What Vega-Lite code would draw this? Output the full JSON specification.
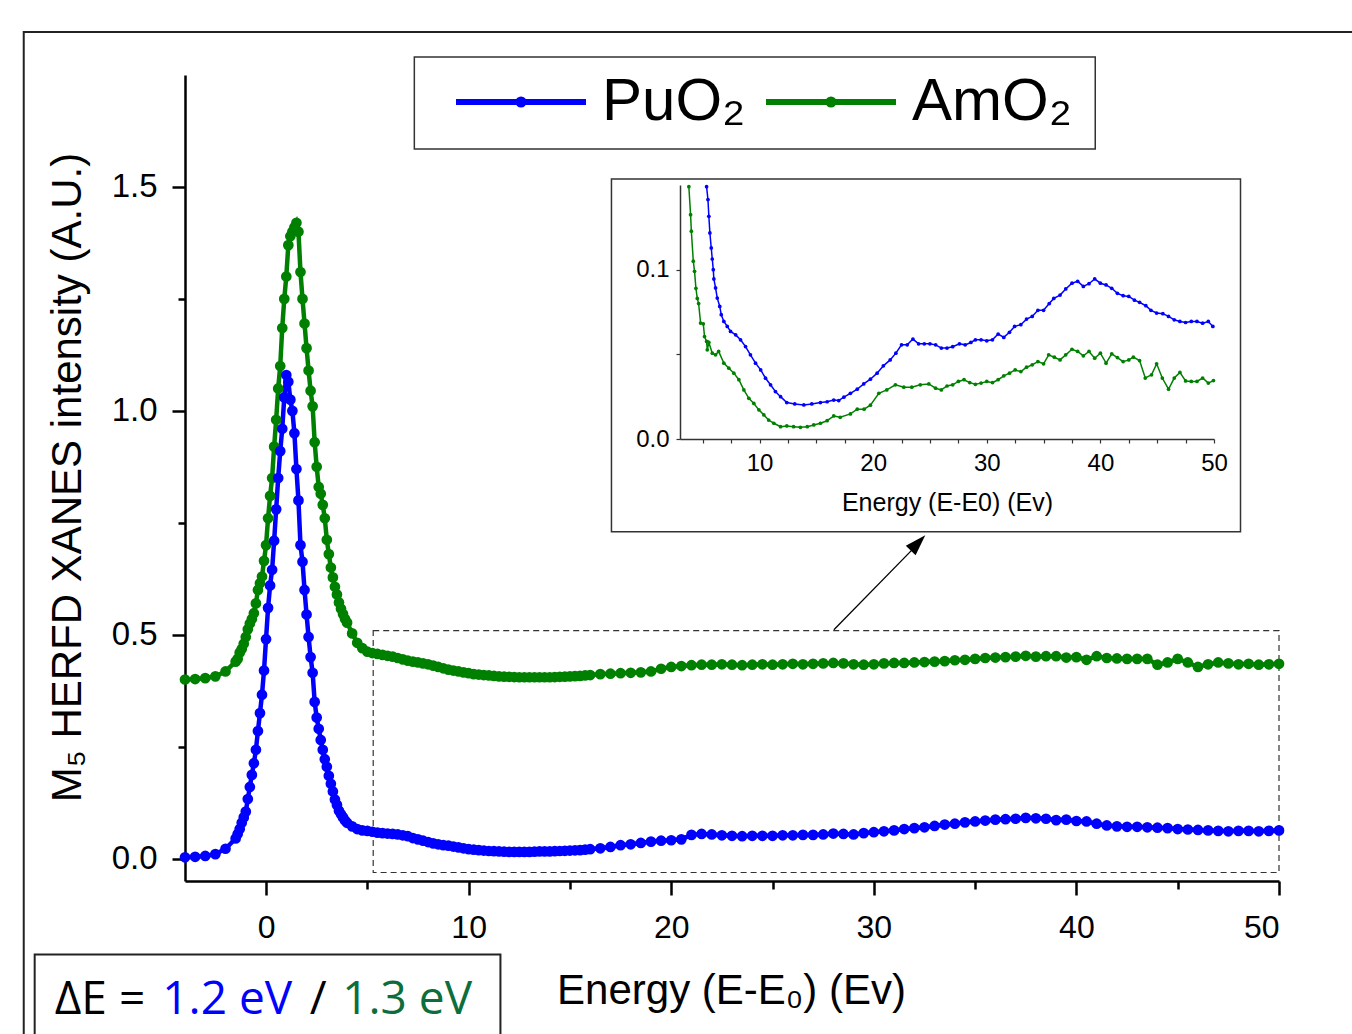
{
"$schema": "https://vega.github.io/schema/vega-lite/v6.json",
"width": 1094,
"height": 806,
"autosize": {"type": "none"},
"padding": {"left": 185, "top": 75, "right": 73, "bottom": 153},
"background": "white",
"config": {"view": {"stroke": null}, "axis": {"grid": false}, "font": "Liberation Sans"},
"datasets": {
"main": [
{"e":-4,"PuO2":0.003,"AmO2":0.400},{"e":-3.5,"PuO2":0.004,"AmO2":0.401},{"e":-3,"PuO2":0.006,"AmO2":0.403},{"e":-2.5,"PuO2":0.010,"AmO2":0.407},{"e":-2,"PuO2":0.022,"AmO2":0.418},
{"e":-1.5,"PuO2":0.045,"AmO2":0.440},{"e":-1.4,"PuO2":0.055,"AmO2":0.446},{"e":-1.3,"PuO2":0.066,"AmO2":0.460},{"e":-1.2,"PuO2":0.080,"AmO2":0.468},{"e":-1.1,"PuO2":0.092,"AmO2":0.480},
{"e":-1.0,"PuO2":0.105,"AmO2":0.495},{"e":-0.9,"PuO2":0.133,"AmO2":0.512},{"e":-0.8,"PuO2":0.160,"AmO2":0.525},{"e":-0.7,"PuO2":0.187,"AmO2":0.535},{"e":-0.6,"PuO2":0.213,"AmO2":0.548},
{"e":-0.5,"PuO2":0.243,"AmO2":0.570},{"e":-0.4,"PuO2":0.285,"AmO2":0.600},{"e":-0.3,"PuO2":0.325,"AmO2":0.615},{"e":-0.2,"PuO2":0.366,"AmO2":0.630},{"e":-0.1,"PuO2":0.420,"AmO2":0.665},
{"e":0,"PuO2":0.490,"AmO2":0.700},{"e":0.1,"PuO2":0.560,"AmO2":0.760},{"e":0.2,"PuO2":0.610,"AmO2":0.810},{"e":0.3,"PuO2":0.645,"AmO2":0.850},{"e":0.4,"PuO2":0.710,"AmO2":0.920},
{"e":0.5,"PuO2":0.780,"AmO2":0.980},{"e":0.6,"PuO2":0.850,"AmO2":1.050},{"e":0.7,"PuO2":0.910,"AmO2":1.100},{"e":0.8,"PuO2":0.960,"AmO2":1.185},{"e":0.9,"PuO2":1.030,"AmO2":1.250},
{"e":1.0,"PuO2":1.080,"AmO2":1.300},{"e":1.1,"PuO2":1.065,"AmO2":1.370},{"e":1.2,"PuO2":1.025,"AmO2":1.390},{"e":1.3,"PuO2":1.000,"AmO2":1.400},{"e":1.4,"PuO2":0.950,"AmO2":1.410},
{"e":1.5,"PuO2":0.870,"AmO2":1.420},{"e":1.6,"PuO2":0.800,"AmO2":1.400},{"e":1.7,"PuO2":0.700,"AmO2":1.310},{"e":1.8,"PuO2":0.663,"AmO2":1.250},{"e":1.9,"PuO2":0.600,"AmO2":1.195},
{"e":2.0,"PuO2":0.545,"AmO2":1.140},{"e":2.1,"PuO2":0.495,"AmO2":1.090},{"e":2.2,"PuO2":0.450,"AmO2":1.045},{"e":2.3,"PuO2":0.415,"AmO2":1.010},{"e":2.4,"PuO2":0.350,"AmO2":0.930},
{"e":2.5,"PuO2":0.315,"AmO2":0.875},{"e":2.6,"PuO2":0.290,"AmO2":0.830},{"e":2.7,"PuO2":0.265,"AmO2":0.815},{"e":2.8,"PuO2":0.243,"AmO2":0.790},{"e":2.9,"PuO2":0.222,"AmO2":0.760},
{"e":3.0,"PuO2":0.205,"AmO2":0.712},{"e":3.1,"PuO2":0.185,"AmO2":0.680},{"e":3.2,"PuO2":0.167,"AmO2":0.650},{"e":3.3,"PuO2":0.150,"AmO2":0.628},{"e":3.4,"PuO2":0.132,"AmO2":0.607},
{"e":3.5,"PuO2":0.120,"AmO2":0.590},{"e":3.6,"PuO2":0.107,"AmO2":0.572},{"e":3.7,"PuO2":0.099,"AmO2":0.558},{"e":3.8,"PuO2":0.092,"AmO2":0.546},{"e":3.9,"PuO2":0.085,"AmO2":0.535},
{"e":4.0,"PuO2":0.080,"AmO2":0.527},{"e":4.25,"PuO2":0.072,"AmO2":0.503},{"e":4.5,"PuO2":0.066,"AmO2":0.482},{"e":4.75,"PuO2":0.063,"AmO2":0.470},{"e":5.0,"PuO2":0.062,"AmO2":0.462},
{"e":5.25,"PuO2":0.060,"AmO2":0.459},{"e":5.5,"PuO2":0.058,"AmO2":0.457},{"e":5.75,"PuO2":0.057,"AmO2":0.455},{"e":6.0,"PuO2":0.056,"AmO2":0.453},{"e":6.25,"PuO2":0.055,"AmO2":0.451},
{"e":6.5,"PuO2":0.054,"AmO2":0.448},{"e":6.75,"PuO2":0.052,"AmO2":0.445},{"e":7.0,"PuO2":0.050,"AmO2":0.442},{"e":7.25,"PuO2":0.046,"AmO2":0.440},{"e":7.5,"PuO2":0.043,"AmO2":0.438},
{"e":7.75,"PuO2":0.040,"AmO2":0.436},{"e":8.0,"PuO2":0.037,"AmO2":0.434},{"e":8.25,"PuO2":0.034,"AmO2":0.431},{"e":8.5,"PuO2":0.032,"AmO2":0.428},{"e":8.75,"PuO2":0.030,"AmO2":0.425},
{"e":9.0,"PuO2":0.029,"AmO2":0.422},{"e":9.25,"PuO2":0.027,"AmO2":0.420},{"e":9.5,"PuO2":0.025,"AmO2":0.418},{"e":9.75,"PuO2":0.023,"AmO2":0.416},{"e":10.0,"PuO2":0.021,"AmO2":0.414},
{"e":10.25,"PuO2":0.020,"AmO2":0.412},{"e":10.5,"PuO2":0.019,"AmO2":0.411},{"e":10.75,"PuO2":0.018,"AmO2":0.410},{"e":11.0,"PuO2":0.017,"AmO2":0.409},{"e":11.25,"PuO2":0.0165,"AmO2":0.408},
{"e":11.5,"PuO2":0.016,"AmO2":0.407},{"e":11.75,"PuO2":0.0155,"AmO2":0.4065},{"e":12.0,"PuO2":0.015,"AmO2":0.406},{"e":12.25,"PuO2":0.015,"AmO2":0.4055},{"e":12.5,"PuO2":0.015,"AmO2":0.405},
{"e":12.75,"PuO2":0.015,"AmO2":0.405},{"e":13.0,"PuO2":0.015,"AmO2":0.405},{"e":13.25,"PuO2":0.0155,"AmO2":0.405},{"e":13.5,"PuO2":0.016,"AmO2":0.405},{"e":13.75,"PuO2":0.016,"AmO2":0.405},
{"e":14.0,"PuO2":0.016,"AmO2":0.405},{"e":14.25,"PuO2":0.0165,"AmO2":0.4055},{"e":14.5,"PuO2":0.017,"AmO2":0.406},{"e":14.75,"PuO2":0.0175,"AmO2":0.4065},{"e":15.0,"PuO2":0.018,"AmO2":0.407},
{"e":15.25,"PuO2":0.0185,"AmO2":0.4075},{"e":15.5,"PuO2":0.019,"AmO2":0.408},{"e":15.75,"PuO2":0.020,"AmO2":0.409},{"e":16.0,"PuO2":0.021,"AmO2":0.410},{"e":16.5,"PuO2":0.023,"AmO2":0.412},
{"e":17.0,"PuO2":0.026,"AmO2":0.413},{"e":17.5,"PuO2":0.030,"AmO2":0.414},{"e":18.0,"PuO2":0.032,"AmO2":0.415},{"e":18.5,"PuO2":0.035,"AmO2":0.416},{"e":19.0,"PuO2":0.038,"AmO2":0.418},
{"e":19.5,"PuO2":0.040,"AmO2":0.424},{"e":20.0,"PuO2":0.041,"AmO2":0.428},{"e":20.5,"PuO2":0.043,"AmO2":0.430},{"e":21.0,"PuO2":0.053,"AmO2":0.432},{"e":21.5,"PuO2":0.055,"AmO2":0.433},
{"e":22.0,"PuO2":0.054,"AmO2":0.433},{"e":22.5,"PuO2":0.052,"AmO2":0.434},{"e":23.0,"PuO2":0.051,"AmO2":0.433},{"e":23.5,"PuO2":0.050,"AmO2":0.432},{"e":24.0,"PuO2":0.051,"AmO2":0.433},
{"e":24.5,"PuO2":0.051,"AmO2":0.434},{"e":25.0,"PuO2":0.051,"AmO2":0.433},{"e":25.5,"PuO2":0.052,"AmO2":0.434},{"e":26.0,"PuO2":0.052,"AmO2":0.435},{"e":26.5,"PuO2":0.053,"AmO2":0.434},
{"e":27.0,"PuO2":0.053,"AmO2":0.435},{"e":27.5,"PuO2":0.054,"AmO2":0.436},{"e":28.0,"PuO2":0.056,"AmO2":0.437},{"e":28.5,"PuO2":0.055,"AmO2":0.436},{"e":29.0,"PuO2":0.054,"AmO2":0.434},
{"e":29.5,"PuO2":0.057,"AmO2":0.433},{"e":30.0,"PuO2":0.059,"AmO2":0.434},{"e":30.5,"PuO2":0.061,"AmO2":0.436},{"e":31.0,"PuO2":0.063,"AmO2":0.437},{"e":31.5,"PuO2":0.066,"AmO2":0.437},
{"e":32.0,"PuO2":0.068,"AmO2":0.438},{"e":32.5,"PuO2":0.070,"AmO2":0.439},{"e":33.0,"PuO2":0.073,"AmO2":0.440},{"e":33.5,"PuO2":0.076,"AmO2":0.441},{"e":34.0,"PuO2":0.078,"AmO2":0.443},
{"e":34.5,"PuO2":0.081,"AmO2":0.444},{"e":35.0,"PuO2":0.083,"AmO2":0.446},{"e":35.5,"PuO2":0.085,"AmO2":0.448},{"e":36.0,"PuO2":0.087,"AmO2":0.449},{"e":36.5,"PuO2":0.088,"AmO2":0.450},
{"e":37.0,"PuO2":0.089,"AmO2":0.451},{"e":37.5,"PuO2":0.091,"AmO2":0.453},{"e":38.0,"PuO2":0.090,"AmO2":0.451},{"e":38.5,"PuO2":0.089,"AmO2":0.452},{"e":39.0,"PuO2":0.086,"AmO2":0.452},
{"e":39.5,"PuO2":0.087,"AmO2":0.449},{"e":40.0,"PuO2":0.084,"AmO2":0.450},{"e":40.5,"PuO2":0.083,"AmO2":0.444},{"e":41.0,"PuO2":0.078,"AmO2":0.452},{"e":41.5,"PuO2":0.074,"AmO2":0.448},
{"e":42.0,"PuO2":0.072,"AmO2":0.447},{"e":42.5,"PuO2":0.071,"AmO2":0.446},{"e":43.0,"PuO2":0.071,"AmO2":0.446},{"e":43.5,"PuO2":0.070,"AmO2":0.446},{"e":44.0,"PuO2":0.069,"AmO2":0.433},
{"e":44.5,"PuO2":0.068,"AmO2":0.438},{"e":45.0,"PuO2":0.066,"AmO2":0.446},{"e":45.5,"PuO2":0.065,"AmO2":0.438},{"e":46.0,"PuO2":0.064,"AmO2":0.428},{"e":46.5,"PuO2":0.063,"AmO2":0.434},
{"e":47.0,"PuO2":0.062,"AmO2":0.438},{"e":47.5,"PuO2":0.061,"AmO2":0.436},{"e":48.0,"PuO2":0.062,"AmO2":0.434},{"e":48.5,"PuO2":0.062,"AmO2":0.435},{"e":49.0,"PuO2":0.061,"AmO2":0.433},
{"e":49.5,"PuO2":0.062,"AmO2":0.434},{"e":50.0,"PuO2":0.063,"AmO2":0.435}
],
"inset": [
{"e":5.34,"s":"PuO2","v":0.149},{"e":5.46,"s":"PuO2","v":0.1414},{"e":5.54,"s":"PuO2","v":0.1315},{"e":5.63,"s":"PuO2","v":0.1217},{"e":5.75,"s":"PuO2","v":0.1128},
{"e":5.84,"s":"PuO2","v":0.1063},{"e":5.93,"s":"PuO2","v":0.100},{"e":5.98,"s":"PuO2","v":0.0945},{"e":6.13,"s":"PuO2","v":0.0892},{"e":6.28,"s":"PuO2","v":0.0832},
{"e":6.5,"s":"PuO2","v":0.0783},{"e":6.63,"s":"PuO2","v":0.0734},{"e":6.86,"s":"PuO2","v":0.0694},{"e":7.16,"s":"PuO2","v":0.0665},{"e":7.45,"s":"PuO2","v":0.0635},
{"e":7.9,"s":"PuO2","v":0.0615},{"e":8.33,"s":"PuO2","v":0.0586},{"e":8.77,"s":"PuO2","v":0.0546},{"e":9.2,"s":"PuO2","v":0.0497},{"e":9.65,"s":"PuO2","v":0.0448},
{"e":10.1,"s":"PuO2","v":0.0408},{"e":10.53,"s":"PuO2","v":0.0359},{"e":10.97,"s":"PuO2","v":0.032},{"e":11.4,"s":"PuO2","v":0.028},{"e":11.85,"s":"PuO2","v":0.025},
{"e":12.4,"s":"PuO2","v":0.0215},{"e":13.1,"s":"PuO2","v":0.0207},{"e":13.9,"s":"PuO2","v":0.0201},{"e":14.6,"s":"PuO2","v":0.0207},{"e":15.36,"s":"PuO2","v":0.0215},
{"e":15.95,"s":"PuO2","v":0.022},{"e":16.53,"s":"PuO2","v":0.023},{"e":16.97,"s":"PuO2","v":0.0227},{"e":17.42,"s":"PuO2","v":0.0247},{"e":18.0,"s":"PuO2","v":0.027},
{"e":18.6,"s":"PuO2","v":0.0294},{"e":19.17,"s":"PuO2","v":0.0325},{"e":19.76,"s":"PuO2","v":0.0353},{"e":20.35,"s":"PuO2","v":0.0389},{"e":20.9,"s":"PuO2","v":0.0432},
{"e":21.5,"s":"PuO2","v":0.0467},{"e":22.0,"s":"PuO2","v":0.0507},{"e":22.5,"s":"PuO2","v":0.0556},{"e":23.0,"s":"PuO2","v":0.0556},{"e":23.5,"s":"PuO2","v":0.059},
{"e":24.0,"s":"PuO2","v":0.0562},{"e":24.5,"s":"PuO2","v":0.0562},{"e":25.0,"s":"PuO2","v":0.0562},{"e":25.5,"s":"PuO2","v":0.0556},{"e":26.0,"s":"PuO2","v":0.0537},
{"e":26.5,"s":"PuO2","v":0.0537},{"e":27.0,"s":"PuO2","v":0.0545},{"e":27.6,"s":"PuO2","v":0.0562},{"e":28.1,"s":"PuO2","v":0.0556},{"e":28.6,"s":"PuO2","v":0.057},
{"e":29.0,"s":"PuO2","v":0.0586},{"e":29.5,"s":"PuO2","v":0.0586},{"e":30.0,"s":"PuO2","v":0.058},{"e":30.5,"s":"PuO2","v":0.0586},{"e":31.0,"s":"PuO2","v":0.062},
{"e":31.5,"s":"PuO2","v":0.060},{"e":32.0,"s":"PuO2","v":0.063},{"e":32.45,"s":"PuO2","v":0.0665},{"e":33.0,"s":"PuO2","v":0.0675},{"e":33.5,"s":"PuO2","v":0.0708},
{"e":34.0,"s":"PuO2","v":0.0724},{"e":34.5,"s":"PuO2","v":0.076},{"e":35.0,"s":"PuO2","v":0.076},{"e":35.5,"s":"PuO2","v":0.080},{"e":35.9,"s":"PuO2","v":0.083},
{"e":36.45,"s":"PuO2","v":0.085},{"e":36.95,"s":"PuO2","v":0.0886},{"e":37.5,"s":"PuO2","v":0.092},{"e":38.0,"s":"PuO2","v":0.0931},{"e":38.5,"s":"PuO2","v":0.0901},
{"e":39.0,"s":"PuO2","v":0.0917},{"e":39.5,"s":"PuO2","v":0.0945},{"e":40.0,"s":"PuO2","v":0.092},{"e":40.5,"s":"PuO2","v":0.091},{"e":41.0,"s":"PuO2","v":0.089},
{"e":41.5,"s":"PuO2","v":0.086},{"e":42.0,"s":"PuO2","v":0.0846},{"e":42.5,"s":"PuO2","v":0.0842},{"e":43.0,"s":"PuO2","v":0.082},{"e":43.45,"s":"PuO2","v":0.0807},
{"e":44.0,"s":"PuO2","v":0.0787},{"e":44.45,"s":"PuO2","v":0.076},{"e":44.95,"s":"PuO2","v":0.0744},{"e":45.5,"s":"PuO2","v":0.074},{"e":46.0,"s":"PuO2","v":0.0724},
{"e":46.5,"s":"PuO2","v":0.0704},{"e":47.0,"s":"PuO2","v":0.0694},{"e":47.5,"s":"PuO2","v":0.0688},{"e":48.0,"s":"PuO2","v":0.0694},{"e":48.5,"s":"PuO2","v":0.0694},
{"e":49.0,"s":"PuO2","v":0.0684},{"e":49.5,"s":"PuO2","v":0.0694},{"e":49.9,"s":"PuO2","v":0.0665},
{"e":3.78,"s":"AmO2","v":0.149},{"e":3.93,"s":"AmO2","v":0.1325},{"e":4.0,"s":"AmO2","v":0.1227},{"e":4.17,"s":"AmO2","v":0.105},{"e":4.28,"s":"AmO2","v":0.099},
{"e":4.4,"s":"AmO2","v":0.089},{"e":4.52,"s":"AmO2","v":0.083},{"e":4.64,"s":"AmO2","v":0.080},{"e":4.81,"s":"AmO2","v":0.0685},{"e":5.05,"s":"AmO2","v":0.068},
{"e":5.16,"s":"AmO2","v":0.0605},{"e":5.34,"s":"AmO2","v":0.0576},{"e":5.4,"s":"AmO2","v":0.0527},{"e":5.54,"s":"AmO2","v":0.057},{"e":5.84,"s":"AmO2","v":0.0507},
{"e":6.13,"s":"AmO2","v":0.0497},{"e":6.4,"s":"AmO2","v":0.0517},{"e":6.86,"s":"AmO2","v":0.0448},{"e":7.3,"s":"AmO2","v":0.0418},{"e":7.74,"s":"AmO2","v":0.0389},
{"e":8.18,"s":"AmO2","v":0.035},{"e":8.62,"s":"AmO2","v":0.029},{"e":9.06,"s":"AmO2","v":0.024},{"e":9.5,"s":"AmO2","v":0.021},{"e":9.94,"s":"AmO2","v":0.0172},
{"e":10.38,"s":"AmO2","v":0.0142},{"e":10.8,"s":"AmO2","v":0.0112},{"e":11.26,"s":"AmO2","v":0.0093},{"e":11.85,"s":"AmO2","v":0.0073},{"e":12.4,"s":"AmO2","v":0.0077},
{"e":13.0,"s":"AmO2","v":0.0073},{"e":13.6,"s":"AmO2","v":0.0069},{"e":14.2,"s":"AmO2","v":0.0073},{"e":14.77,"s":"AmO2","v":0.0083},{"e":15.36,"s":"AmO2","v":0.0093},
{"e":15.95,"s":"AmO2","v":0.0108},{"e":16.53,"s":"AmO2","v":0.0136},{"e":17.1,"s":"AmO2","v":0.0128},{"e":18.0,"s":"AmO2","v":0.0148},{"e":18.6,"s":"AmO2","v":0.0176},
{"e":19.2,"s":"AmO2","v":0.0176},{"e":19.76,"s":"AmO2","v":0.020},{"e":20.5,"s":"AmO2","v":0.027},{"e":21.2,"s":"AmO2","v":0.029},{"e":21.96,"s":"AmO2","v":0.032},
{"e":22.7,"s":"AmO2","v":0.0306},{"e":23.4,"s":"AmO2","v":0.0306},{"e":24.15,"s":"AmO2","v":0.032},{"e":24.9,"s":"AmO2","v":0.0325},{"e":25.5,"s":"AmO2","v":0.030},
{"e":26.0,"s":"AmO2","v":0.029},{"e":26.5,"s":"AmO2","v":0.0313},{"e":27.0,"s":"AmO2","v":0.032},{"e":27.5,"s":"AmO2","v":0.034},{"e":28.0,"s":"AmO2","v":0.035},
{"e":28.5,"s":"AmO2","v":0.0333},{"e":29.0,"s":"AmO2","v":0.0323},{"e":29.5,"s":"AmO2","v":0.033},{"e":30.0,"s":"AmO2","v":0.034},{"e":30.5,"s":"AmO2","v":0.0333},
{"e":31.0,"s":"AmO2","v":0.035},{"e":31.5,"s":"AmO2","v":0.0373},{"e":32.0,"s":"AmO2","v":0.0389},{"e":32.5,"s":"AmO2","v":0.0408},{"e":33.0,"s":"AmO2","v":0.0398},
{"e":33.5,"s":"AmO2","v":0.0424},{"e":34.0,"s":"AmO2","v":0.0438},{"e":34.5,"s":"AmO2","v":0.0457},{"e":35.0,"s":"AmO2","v":0.0444},{"e":35.45,"s":"AmO2","v":0.0497},
{"e":35.95,"s":"AmO2","v":0.0483},{"e":36.45,"s":"AmO2","v":0.0467},{"e":36.95,"s":"AmO2","v":0.0497},{"e":37.5,"s":"AmO2","v":0.053},{"e":38.0,"s":"AmO2","v":0.0517},
{"e":38.5,"s":"AmO2","v":0.0491},{"e":39.0,"s":"AmO2","v":0.0517},{"e":39.5,"s":"AmO2","v":0.0477},{"e":40.0,"s":"AmO2","v":0.0507},{"e":40.5,"s":"AmO2","v":0.0448},
{"e":41.0,"s":"AmO2","v":0.0503},{"e":41.5,"s":"AmO2","v":0.0481},{"e":42.0,"s":"AmO2","v":0.0457},{"e":42.5,"s":"AmO2","v":0.0467},{"e":42.9,"s":"AmO2","v":0.0483},
{"e":43.45,"s":"AmO2","v":0.0463},{"e":43.95,"s":"AmO2","v":0.036},{"e":44.5,"s":"AmO2","v":0.0379},{"e":44.95,"s":"AmO2","v":0.0444},{"e":45.45,"s":"AmO2","v":0.036},
{"e":46.0,"s":"AmO2","v":0.0294},{"e":46.5,"s":"AmO2","v":0.036},{"e":47.0,"s":"AmO2","v":0.0393},{"e":47.5,"s":"AmO2","v":0.0343},{"e":48.0,"s":"AmO2","v":0.034},
{"e":48.5,"s":"AmO2","v":0.034},{"e":49.0,"s":"AmO2","v":0.036},{"e":49.5,"s":"AmO2","v":0.033},{"e":49.95,"s":"AmO2","v":0.0345}
]
},
"layer": [
{
"data": {"values": [{}]},
"layer": [
{"mark": {"type": "rect", "filled": false, "stroke": "#222", "strokeWidth": 2},
 "encoding": {"x": {"datum": -11.96, "type": "quantitative", "scale": {"domain": [-4, 50]}, "axis": null}, "x2": {"datum": 60},
  "y": {"datum": 1.846, "type": "quantitative", "scale": {"domain": [-0.05, 1.75]}, "axis": null}, "y2": {"datum": -0.6}}},
{"mark": {"type": "rect", "filled": false, "stroke": "#333", "strokeWidth": 1.5},
 "encoding": {"x": {"datum": 7.32, "type": "quantitative", "scale": {"domain": [-4, 50]}, "axis": null}, "x2": {"datum": 40.93},
  "y": {"datum": 1.790, "type": "quantitative", "scale": {"domain": [-0.05, 1.75]}, "axis": null}, "y2": {"datum": 1.585}}},
{"mark": {"type": "rect", "filled": false, "stroke": "#333", "strokeWidth": 1.5},
 "encoding": {"x": {"datum": 17.05, "type": "quantitative", "scale": {"domain": [-4, 50]}, "axis": null}, "x2": {"datum": 48.10},
  "y": {"datum": 1.518, "type": "quantitative", "scale": {"domain": [-0.05, 1.75]}, "axis": null}, "y2": {"datum": 0.730}}},
{"mark": {"type": "rect", "filled": false, "stroke": "#333", "strokeWidth": 1.2, "strokeDash": [6, 4]},
 "encoding": {"x": {"datum": 5.29, "type": "quantitative", "scale": {"domain": [-4, 50]}, "axis": null}, "x2": {"datum": 50},
  "y": {"datum": 0.509, "type": "quantitative", "scale": {"domain": [-0.05, 1.75]}, "axis": null}, "y2": {"datum": -0.031}}},
{"mark": {"type": "rule", "stroke": "#000", "strokeWidth": 1.3},
 "encoding": {"x": {"datum": 28.03, "type": "quantitative", "scale": {"domain": [-4, 50]}, "axis": null}, "x2": {"datum": 31.9},
  "y": {"datum": 0.511, "type": "quantitative", "scale": {"domain": [-0.05, 1.75]}, "axis": null}, "y2": {"datum": 0.69}}},
{"mark": {"type": "point", "filled": true, "color": "#000", "opacity": 1, "shape": "M0,-1L0.65,1L-0.65,1Z", "size": 441, "angle": 44},
 "encoding": {"x": {"datum": 32.18, "type": "quantitative", "scale": {"domain": [-4, 50]}, "axis": null},
  "y": {"datum": 0.705, "type": "quantitative", "scale": {"domain": [-0.05, 1.75]}, "axis": null}}},
{"mark": {"type": "rect", "filled": false, "stroke": "#222", "strokeWidth": 2},
 "encoding": {"x": {"datum": -11.42, "type": "quantitative", "scale": {"domain": [-4, 50]}, "axis": null}, "x2": {"datum": 11.57},
  "y": {"datum": -0.2143, "type": "quantitative", "scale": {"domain": [-0.05, 1.75]}, "axis": null}, "y2": {"datum": -0.6}}},
{"mark": {"type": "text", "text": "ΔE =", "align": "left", "baseline": "alphabetic", "font": "Open Sans", "fontSize": 46, "color": "#000"},
 "encoding": {"x": {"datum": -10.43, "type": "quantitative", "scale": {"domain": [-4, 50]}, "axis": null},
  "y": {"datum": -0.348, "type": "quantitative", "scale": {"domain": [-0.05, 1.75]}, "axis": null}}},
{"mark": {"type": "text", "text": "1.2 eV", "align": "left", "baseline": "alphabetic", "font": "Open Sans", "fontSize": 46, "color": "#0000ff"},
 "encoding": {"x": {"datum": -5.12, "type": "quantitative", "scale": {"domain": [-4, 50]}, "axis": null},
  "y": {"datum": -0.348, "type": "quantitative", "scale": {"domain": [-0.05, 1.75]}, "axis": null}}},
{"mark": {"type": "text", "text": "/", "align": "center", "baseline": "alphabetic", "font": "Open Sans", "fontSize": 46, "color": "#000"},
 "encoding": {"x": {"datum": 2.57, "type": "quantitative", "scale": {"domain": [-4, 50]}, "axis": null},
  "y": {"datum": -0.348, "type": "quantitative", "scale": {"domain": [-0.05, 1.75]}, "axis": null}}},
{"mark": {"type": "text", "text": "1.3 eV", "align": "left", "baseline": "alphabetic", "font": "Open Sans", "fontSize": 46, "color": "#0b6e3c"},
 "encoding": {"x": {"datum": 3.76, "type": "quantitative", "scale": {"domain": [-4, 50]}, "axis": null},
  "y": {"datum": -0.348, "type": "quantitative", "scale": {"domain": [-0.05, 1.75]}, "axis": null}}}
]
},
{
"data": {"name": "main"},
"transform": [{"fold": ["PuO2", "AmO2"], "as": ["s", "v"]}],
"encoding": {
 "x": {"field": "e", "type": "quantitative", "scale": {"domain": [-4, 50]},
  "axis": {"orient": "bottom", "values": [0, 10, 20, 30, 40, 50], "tickSize": 14, "tickWidth": 2.5, "tickColor": "#000", "domainColor": "#000", "domainWidth": 2.5,
   "labelFont": "Liberation Sans", "labelFontSize": 32, "labelColor": "#000", "labelPadding": 17,
   "title": "Energy (E-E₀) (Ev)", "titleFont": "Liberation Sans", "titleFontSize": 42, "titleFontWeight": "normal", "titleColor": "#000",
   "titleX": 546, "titleY": 122, "titleBaseline": "alphabetic", "titleAlign": "center"}},
 "y": {"field": "v", "type": "quantitative", "scale": {"domain": [-0.05, 1.75]},
  "axis": {"orient": "left", "values": [0, 0.5, 1, 1.5], "format": ".1f", "tickSize": 13, "tickWidth": 2.5, "tickColor": "#000", "domainColor": "#000", "domainWidth": 2.5,
   "labelFont": "Liberation Sans", "labelFontSize": 33, "labelColor": "#000", "labelPadding": 15,
   "title": "M₅ HERFD XANES intensity (A.U.)", "titleFont": "Liberation Sans", "titleFontSize": 42, "titleFontWeight": "normal", "titleColor": "#000",
   "titleX": -105, "titleY": 402, "titleBaseline": "alphabetic", "titleAlign": "center", "titleAngle": -90}}
},
"layer": [
 {"mark": {"type": "line", "strokeWidth": 4.5},
  "encoding": {"color": {"field": "s", "type": "nominal", "scale": {"domain": ["PuO2", "AmO2"], "range": ["#0000ff", "#008000"]},
   "legend": {"orient": "none", "legendX": 268, "legendY": -41, "direction": "horizontal", "title": null, "padding": 0,
    "symbolType": "M-1,0H1M-0.04,0A0.04,0.04,0,1,1,0.04,0A0.04,0.04,0,1,1,-0.04,0", "symbolSize": 16900, "symbolStrokeWidth": 6,
    "labelFont": "Liberation Sans", "labelFontSize": 60, "labelColor": "#000", "labelOffset": 13, "labelLimit": 400, "columnPadding": 8,
    "labelExpr": "datum.value === 'PuO2' ? 'PuO₂' : 'AmO₂'"}}}},
 {"mark": {"type": "point", "filled": true, "size": 115, "opacity": 1},
  "encoding": {"color": {"field": "s", "type": "nominal", "scale": {"domain": ["PuO2", "AmO2"], "range": ["#0000ff", "#008000"]}, "legend": null}}}
]
},
{
"data": {"name": "main"},
"mark": {"type": "point", "opacity": 0},
"encoding": {
 "x": {"field": "e", "type": "quantitative", "scale": {"domain": [-4, 50]},
  "axis": {"orient": "bottom", "values": [5, 15, 25, 35, 45], "tickSize": 8, "tickWidth": 2.5, "tickColor": "#000", "labels": false, "domain": false, "title": null}},
 "y": {"field": "PuO2", "type": "quantitative", "scale": {"domain": [-0.05, 1.75]},
  "axis": {"orient": "left", "values": [0.25, 0.75, 1.25], "tickSize": 7, "tickWidth": 2.5, "tickColor": "#000", "labels": false, "domain": false, "title": null}}
}
},
{
"data": {"name": "inset"},
"encoding": {
 "x": {"field": "e", "type": "quantitative", "scale": {"domain": [3, 50], "range": [495, 1029]},
  "axis": {"orient": "bottom", "offset": -442, "values": [5, 7.5, 10, 12.5, 15, 17.5, 20, 22.5, 25, 27.5, 30, 32.5, 35, 37.5, 40, 42.5, 45, 47.5, 50],
   "labelExpr": "datum.value % 10 === 0 ? datum.label : ''", "tickSize": 4, "tickWidth": 1.2, "tickColor": "#333", "domainColor": "#333", "domainWidth": 1.5,
   "labelFont": "Liberation Sans", "labelFontSize": 24, "labelColor": "#000", "labelPadding": 8, "labelFlush": false, "labelOverlap": false,
   "title": "Energy (E-E0) (Ev)", "titleFont": "Liberation Sans", "titleFontSize": 25, "titleFontWeight": "normal", "titleColor": "#000",
   "titleX": 762, "titleY": 71, "titleBaseline": "alphabetic", "titleAlign": "center"}},
 "y": {"field": "v", "type": "quantitative", "scale": {"domain": [0, 0.15], "range": [364, 110]},
  "axis": {"orient": "left", "offset": -495, "values": [0, 0.05, 0.1], "format": ".1f", "labelExpr": "datum.value === 0.05 ? '' : datum.label",
   "tickSize": 4, "tickWidth": 1.2, "tickColor": "#333", "domainColor": "#333", "domainWidth": 1.5,
   "labelFont": "Liberation Sans", "labelFontSize": 24, "labelColor": "#000", "labelPadding": 7, "labelFlush": false, "labelOverlap": false, "title": null}},
 "color": {"field": "s", "type": "nominal", "scale": {"domain": ["PuO2", "AmO2"], "range": ["#0000ff", "#008000"]}, "legend": null}
},
"layer": [
 {"mark": {"type": "line", "strokeWidth": 1.5}},
 {"mark": {"type": "point", "filled": true, "size": 14, "opacity": 1}}
]
}
],
"resolve": {"scale": {"x": "independent", "y": "independent"}}
}
